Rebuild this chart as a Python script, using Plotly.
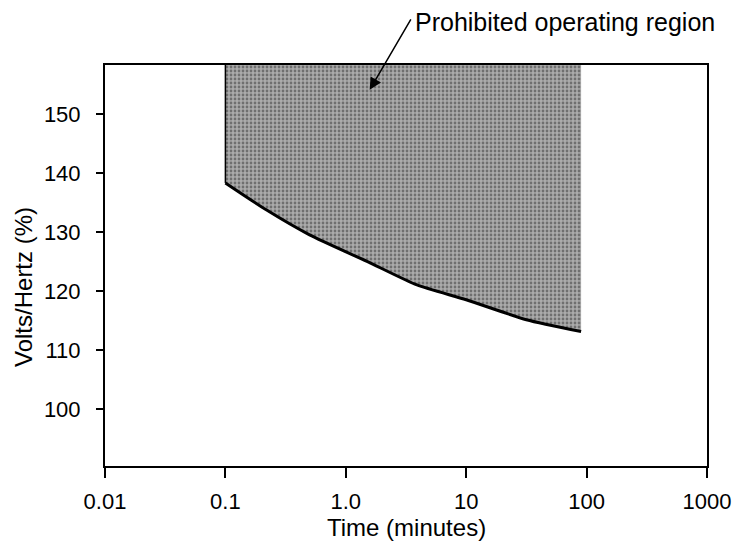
import math
import plotly.graph_objects as go

# ---- data ----
time_min = [0.1, 0.22, 0.5, 1.5, 3.9, 10, 31.6, 90]
volts_hertz = [138.3, 133.7, 129.5, 125.0, 121.0, 118.5, 115.1, 113.1]
region_top = 158.3

x_tick_vals = [0.01, 0.1, 1, 10, 100, 1000]
x_tick_text = ["0.01", "0.1", "1.0", "10", "100", "1000"]
y_tick_vals = [100, 110, 120, 130, 140, 150]

y_range = [90.3, 158.3]
x_range = [0.01, 1000]

arrow_tip = (1.58, 154.1)
label_text = "Prohibited operating region"

FONT = "Liberation Sans, Arial, Helvetica, sans-serif"

# plot area in page px: x 105..707, y 65..466 (page body margin removed below)
W, H = 736, 542
L, T = 105, 65
R = W - 707
B = H - 466
PW, PH = 707 - 105, 466 - 65

fig = go.Figure()

# shaded prohibited region (polygon: curve + top edge)
poly_x = time_min + [time_min[-1], time_min[0]]
poly_y = volts_hertz + [region_top, region_top]
fig.add_trace(go.Scatter(
    x=poly_x, y=poly_y, mode="lines", fill="toself",
    line=dict(width=0, color="rgba(0,0,0,0)"),
    fillcolor="#a0a0a0",
    fillpattern=dict(shape=".", bgcolor="#ababab", fgcolor="#333333",
                     size=4, solidity=0.38),
    hoverinfo="skip", showlegend=False,
))

# left vertical edge
fig.add_trace(go.Scatter(
    x=[time_min[0], time_min[0]],
    y=[region_top, volts_hertz[0]],
    mode="lines", line=dict(color="black", width=1.5),
    showlegend=False, hoverinfo="skip",
))
# lower boundary curve
fig.add_trace(go.Scatter(
    x=time_min, y=volts_hertz,
    mode="lines", line=dict(color="black", width=3, shape="spline", smoothing=0.6),
    showlegend=False, hoverinfo="skip",
))

# arrow
fig.add_annotation(
    x=math.log10(arrow_tip[0]), y=arrow_tip[1], xref="x", yref="y",
    text="", showarrow=True, ax=42, ay=-72,
    arrowhead=2, arrowsize=1.6, arrowwidth=1.5, arrowcolor="black",
)
# label (above plot area)
fig.add_annotation(
    x=(413 - 105) / PW, y=(466 - 22) / PH, xref="paper", yref="paper",
    text=label_text, showarrow=False, xanchor="left", yanchor="middle",
    font=dict(family=FONT, size=25, color="black"),
)
# axis titles
fig.add_annotation(
    x=0.5, y=(466 - 527) / PH, xref="paper", yref="paper",
    text="Time (minutes)", showarrow=False, xanchor="center", yanchor="middle",
    font=dict(family=FONT, size=24, color="black"),
)
fig.add_annotation(
    x=(23 - 105) / PW, y=(466 - 287) / PH, xref="paper", yref="paper",
    text="Volts/Hertz (%)", showarrow=False, textangle=-90,
    xanchor="center", yanchor="middle",
    font=dict(family=FONT, size=24, color="black"),
)

fig.update_xaxes(
    type="log", range=[math.log10(x_range[0]), math.log10(x_range[1])],
    tickvals=x_tick_vals, ticktext=x_tick_text,
    showgrid=False, zeroline=False, automargin=False,
    showline=True, linecolor="black", linewidth=2, mirror=True,
    ticks="outside", ticklen=10, tickwidth=2, tickcolor="black",
    ticklabelstandoff=5,
    tickfont=dict(family=FONT, size=22, color="black"),
)
fig.update_yaxes(
    range=y_range, tickvals=y_tick_vals,
    showgrid=False, zeroline=False, automargin=False,
    showline=True, linecolor="black", linewidth=2, mirror=True,
    ticks="outside", ticklen=7, tickwidth=2, tickcolor="black",
    ticklabelstandoff=11,
    tickfont=dict(family=FONT, size=22, color="black"),
)

fig.update_layout(
    width=W, height=H,
    margin=dict(l=L, r=R, t=T, b=B, autoexpand=False),
    paper_bgcolor="white", plot_bgcolor="white",
    showlegend=False, hovermode=False,
    font=dict(family=FONT, color="black"),
)

fig.write_html(
    "out.html",
    config={"displayModeBar": False, "staticPlot": True},
    post_script="document.body.style.margin='0';document.body.style.overflow='hidden';",
)
